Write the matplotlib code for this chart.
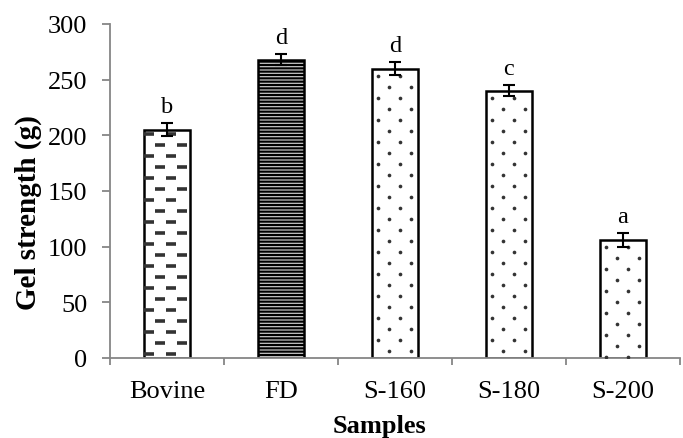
import numpy as np
import matplotlib
matplotlib.use("Agg")
import matplotlib.pyplot as plt

# Data
samples = ["Bovine", "FD", "S-160", "S-180", "S-200"]
gel_strength = [205, 268, 260, 240, 106]
errors = [6, 5, 6, 5, 6]
letters = ["b", "d", "d", "c", "a"]
yticks = [0, 50, 100, 150, 200, 250, 300]

plt.rcParams["font.family"] = ["Liberation Serif", "DejaVu Serif"]
plt.rcParams["hatch.color"] = "#111111"
plt.rcParams["hatch.linewidth"] = 1.5

W, H = 683, 439
fig = plt.figure(figsize=(W / 100, H / 100), dpi=100)
ax_l, ax_b, ax_w, ax_h = 110 / W, 1 - 359 / H, 570 / W, 334 / H
ax = fig.add_axes([ax_l, ax_b, ax_w, ax_h])

x = np.arange(len(samples))
width = 0.4
bars = ax.bar(x, gel_strength, width=width, facecolor="white",
              edgecolor="black", linewidth=1.8, zorder=2)

ax.set_xlim(-0.5, len(samples) - 0.5)
ax.set_ylim(0, 300)

# data units per pixel, used to lay out the fill patterns
px_x = len(samples) / 570
px_y = 300 / 334


def pattern_points(bar, dx_px, dy_px, x_start=3, y_start=4):
    x0 = bar.get_x()
    w = bar.get_width()
    h = bar.get_height()
    pts_x, pts_y = [], []
    row = 0
    yy = h - y_start * px_y
    while yy > 0:
        off = (dx_px / 2) * (row % 2)
        xx = x0 + (x_start + off) * px_x
        while xx < x0 + w:
            pts_x.append(xx)
            pts_y.append(yy)
            xx += dx_px * px_x
        yy -= dy_px * px_y
        row += 1
    return pts_x, pts_y


# Bovine: staggered dashes
b = bars[0]
px_, py_ = pattern_points(b, 22, 11, x_start=5, y_start=4)
sc = ax.scatter(px_, py_, marker="_", s=55, linewidths=2.6, color="#333333", zorder=3)
sc.set_clip_path(b)

# FD: dense horizontal lines
bars[1].set_facecolor("#c4c4c4")
bars[1].set_hatch("-----")

# S-160, S-180, S-200: staggered dots
for b in bars[2:]:
    px_, py_ = pattern_points(b, 22, 11, x_start=6, y_start=7)
    sc = ax.scatter(px_, py_, marker="o", s=7, color="#333333",
                    linewidths=0, zorder=3)
    sc.set_clip_path(b)

ax.errorbar(x, gel_strength, yerr=errors, fmt="none", ecolor="black",
            elinewidth=1.5, capsize=4.5, capthick=1.5, zorder=4)

for xi, v, e, lab in zip(x, gel_strength, errors, letters):
    ax.text(xi, v + e + 10, lab, ha="center", va="baseline", fontsize=17.5)

ax.spines["top"].set_visible(False)
ax.spines["right"].set_visible(False)
for s in ("left", "bottom"):
    ax.spines[s].set_color("#868686")
    ax.spines[s].set_linewidth(1.3)

ax.set_yticks(yticks)
ax.tick_params(axis="y", direction="out", length=5.8, width=1.3, color="#868686",
               labelsize=19, pad=10.5)
ax.set_xticks(x)
ax.set_xticklabels(samples)
ax.tick_params(axis="x", which="major", length=0, labelsize=19, pad=16)
ax.set_xticks(np.arange(-0.5, len(samples), 1.0), minor=True)
ax.tick_params(axis="x", which="minor", direction="out", length=5, width=1.3,
               color="#868686")

# axis titles
fig.text(28 / W, 1 - 213 / H, "Gel strength (g)", rotation=90, ha="center",
         va="center", fontsize=21, fontweight="bold")
fig.text(379 / W, 1 - 433 / H, "Samples", ha="center", va="baseline",
         fontsize=19, fontweight="bold")

fig.savefig("out.png", dpi=100)
